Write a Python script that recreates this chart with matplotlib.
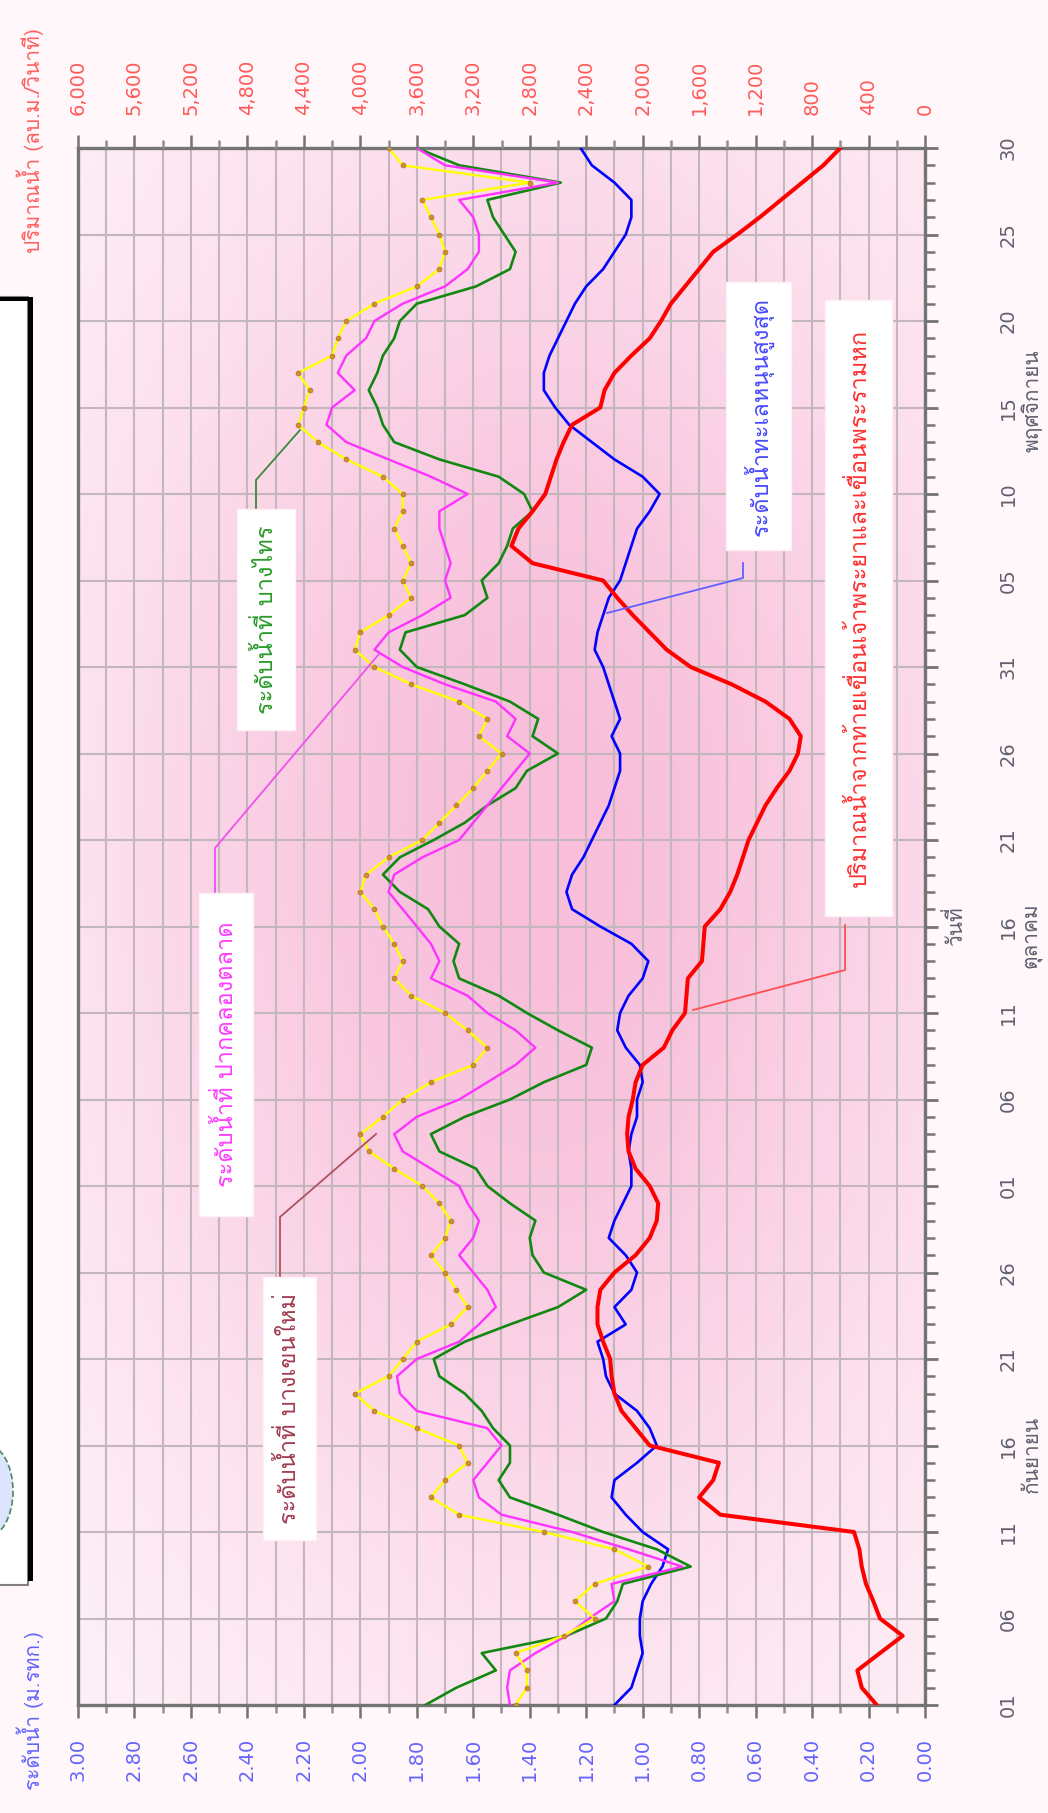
import numpy as np
import matplotlib
matplotlib.use('Agg')
import matplotlib.pyplot as plt
from matplotlib import font_manager
from matplotlib.lines import Line2D
from matplotlib.patches import Rectangle, Circle

# data: day 0 = 01 Sep ... day 90 = 30 Nov
days = np.arange(91)

lvl_bangsai = [1.77, 1.66, 1.52, 1.57, 1.27, 1.13, 1.09, 1.07, 0.83, 0.95,
               1.14, 1.30, 1.47, 1.51, 1.47, 1.47, 1.53, 1.57, 1.63, 1.72,
               1.74, 1.63, 1.47, 1.30, 1.20, 1.35, 1.39, 1.40, 1.38, 1.47,
               1.55, 1.59, 1.72, 1.75, 1.63, 1.47, 1.35, 1.20, 1.18, 1.30,
               1.41, 1.51, 1.65, 1.67, 1.65, 1.72, 1.76, 1.86, 1.92, 1.86,
               1.74, 1.63, 1.55, 1.45, 1.41, 1.30, 1.39, 1.37, 1.47, 1.63,
               1.80, 1.86, 1.84, 1.63, 1.55, 1.57, 1.51, 1.48, 1.46, 1.39,
               1.42, 1.51, 1.72, 1.88, 1.92, 1.94, 1.97, 1.94, 1.92, 1.88,
               1.86, 1.80, 1.59, 1.47, 1.45, 1.49, 1.53, 1.55, 1.29, 1.65,
               1.80]
lvl_pakklong = [1.47, 1.48, 1.47, 1.38, 1.27, 1.19, 1.10, 1.11, 0.86, 1.05,
                1.25, 1.50, 1.58, 1.60, 1.55, 1.50, 1.55, 1.80, 1.86, 1.87,
                1.80, 1.65, 1.58, 1.52, 1.55, 1.60, 1.65, 1.60, 1.58, 1.62,
                1.65, 1.75, 1.85, 1.88, 1.80, 1.65, 1.55, 1.45, 1.38, 1.45,
                1.55, 1.62, 1.75, 1.72, 1.75, 1.80, 1.85, 1.90, 1.88, 1.78,
                1.65, 1.60, 1.55, 1.50, 1.45, 1.40, 1.48, 1.45, 1.52, 1.70,
                1.85, 1.95, 1.90, 1.78, 1.68, 1.70, 1.68, 1.70, 1.72, 1.72,
                1.62, 1.75, 1.90, 2.05, 2.12, 2.10, 2.02, 2.08, 2.05, 1.98,
                1.95, 1.85, 1.70, 1.62, 1.58, 1.58, 1.60, 1.65, 1.30, 1.70,
                1.80]
lvl_bangkhen = [1.45, 1.41, 1.41, 1.45, 1.28, 1.17, 1.24, 1.17, 0.98, 1.10,
                1.35, 1.65, 1.75, 1.70, 1.62, 1.65, 1.80, 1.95, 2.02, 1.90,
                1.85, 1.80, 1.68, 1.62, 1.66, 1.70, 1.75, 1.70, 1.68, 1.72,
                1.78, 1.88, 1.97, 2.00, 1.92, 1.85, 1.75, 1.60, 1.55, 1.62,
                1.70, 1.82, 1.88, 1.85, 1.88, 1.92, 1.95, 2.00, 1.98, 1.90,
                1.78, 1.72, 1.66, 1.60, 1.55, 1.50, 1.58, 1.55, 1.65, 1.82,
                1.95, 2.02, 2.00, 1.90, 1.82, 1.85, 1.82, 1.85, 1.88, 1.85,
                1.85, 1.92, 2.05, 2.15, 2.22, 2.20, 2.18, 2.22, 2.10, 2.08,
                2.05, 1.95, 1.80, 1.72, 1.70, 1.72, 1.75, 1.78, 1.40, 1.85,
                1.90]
sea_level = [1.10, 1.04, 1.02, 1.00, 1.01, 1.01, 1.00, 0.97, 0.93, 0.91,
             1.00, 1.06, 1.11, 1.10, 1.02, 0.95, 0.975, 1.02, 1.10, 1.13,
             1.14, 1.16, 1.06, 1.10, 1.04, 1.02, 1.06, 1.12, 1.10, 1.07,
             1.04, 1.04, 1.05, 1.04, 1.02, 1.02, 1.00, 1.01, 1.06, 1.09,
             1.08, 1.05, 1.00, 0.98, 1.04, 1.15, 1.25, 1.27, 1.25, 1.21,
             1.18, 1.15, 1.12, 1.10, 1.08, 1.08, 1.11, 1.08, 1.10, 1.12,
             1.14, 1.17, 1.16, 1.14, 1.12, 1.08, 1.06, 1.04, 1.02, 0.975,
             0.94, 1.00, 1.10, 1.18, 1.26, 1.31, 1.35, 1.35, 1.33, 1.30,
             1.27, 1.24, 1.20, 1.14, 1.10, 1.06, 1.04, 1.04, 1.10, 1.18,
             1.22]
flow_q = [342, 448, 479, 319, 158, 319, 366, 418, 448, 465,
          503, 1450, 1600, 1500, 1460, 1950, 2050, 2150, 2200, 2220,
          2230, 2280, 2320, 2320, 2300, 2200, 2050, 1950, 1900, 1890,
          1950, 2050, 2100, 2110, 2100, 2070, 2050, 2000, 1850, 1790,
          1700, 1690, 1680, 1580, 1570, 1560, 1450, 1380, 1330, 1290,
          1250, 1190, 1130, 1050, 960, 900, 880, 960, 1130, 1370,
          1660, 1830, 1950, 2070, 2180, 2280, 2780, 2930, 2880, 2780,
          2690, 2650, 2610, 2560, 2500, 2300, 2270, 2200, 2080, 1950,
          1870, 1800, 1700, 1600, 1500, 1330, 1170, 1020, 870, 720,
          600]

date_ticks = np.arange(0, 91, 5)
date_labels = ['01', '06', '11', '16', '21', '26', '01', '06', '11', '16',
               '21', '26', '31', '05', '10', '15', '20', '25', '30']
level_ticks = np.arange(0, 3.01, 0.2)
flow_ticks = np.arange(0, 6001, 400)


def thai_family():
    from fontTools.ttLib import TTFont
    for f in font_manager.fontManager.ttflist:
        try:
            tt = TTFont(f.fname, fontNumber=0, lazy=True)
            if 0x0E01 in tt.getBestCmap():
                return f.name
        except Exception:
            pass
    return 'DejaVu Sans'


names = {f.name for f in font_manager.fontManager.ttflist}
THAI = thai_family()
if 'Liberation Sans Narrow' in names:
    NUM, NUM_SIZE = 'Liberation Sans Narrow', 19
else:
    NUM, NUM_SIZE = 'DejaVu Sans', 14
plt.rcParams['font.family'] = [THAI, 'DejaVu Sans']

W, H = 1048, 1813


def fx(x):
    return x / W


def fy(y):
    return 1 - y / H


fig = plt.figure(figsize=(W / 100, H / 100), dpi=100, facecolor='#fff7fa')
ax = fig.add_axes([fx(78), fy(1705), (925 - 78) / W, (1705 - 148) / H])

# pink background gradient
gx, gy = np.meshgrid(np.linspace(0, 1, 300), np.linspace(0, 1, 300))
g = np.exp(-((gx - 0.55) / 0.55) ** 2 - ((gy - 0.55) / 0.5) ** 2)
c0 = np.array([255, 246, 250]) / 255
c1 = np.array([248, 190, 218]) / 255
img = c0 + (c1 - c0) * g[..., None]
ax.imshow(img, extent=[3, 0, 0, 90], aspect='auto', origin='lower', zorder=0)

ax.plot(sea_level, days, color='#0000ff', lw=1.9, zorder=3)
ax.plot(lvl_bangsai, days, color='#118811', lw=1.9, zorder=3)
ax.plot(lvl_pakklong, days, color='#ff33ff', lw=1.7, zorder=3)
ax.plot(lvl_bangkhen, days, color='#ffff00', lw=1.7, zorder=3,
        marker='o', ms=3.5, mfc='#d09030', mec='#b07020', mew=0.5)

ax.set_xlim(3, 0)
ax.set_ylim(0, 90)
ax.set_xticks(level_ticks)
ax.set_xticks(np.arange(0.1, 3.0, 0.2), minor=True)
ax.set_xticklabels(['%.2f' % v for v in level_ticks])
ax.set_yticks(date_ticks)
ax.set_yticks(days, minor=True)
ax.set_yticklabels(date_labels)
ax.yaxis.tick_right()
ax.grid(True, which='both', axis='x', color='#c4b6bd', lw=1.5)
ax.grid(True, which='major', axis='y', color='#c4b6bd', lw=1.5)
for s in ax.spines.values():
    s.set_color('#747474')
    s.set_linewidth(2.4)
ax.tick_params(axis='x', which='major', length=9.5, width=1.8, color='#747474',
               pad=14, labelrotation=90, labelcolor='#6464ff', labelsize=NUM_SIZE)
ax.tick_params(axis='x', which='minor', length=6, width=1.8, color='#909090')
ax.tick_params(axis='y', which='major', length=9, width=2, color='#747474',
               pad=44, labelrotation=90, labelcolor='#606070', labelsize=NUM_SIZE)
ax.tick_params(axis='y', which='minor', length=7, width=1.8, color='#747474')
for t in ax.get_xticklabels() + ax.get_yticklabels():
    t.set_family(NUM)
for t in ax.get_yticklabels():
    t.set_verticalalignment('center')

ax2 = ax.twiny()
ax2.plot(flow_q, days, color='#ff0000', lw=2.9, zorder=4)
ax2.set_xlim(6000, 0)
ax2.set_xticks(flow_ticks)
ax2.set_xticks(np.arange(200, 6000, 400), minor=True)
ax2.set_xticklabels(['{:,}'.format(v) for v in flow_ticks])
ax2.tick_params(axis='x', which='major', length=9.5, width=1.8, color='#747474',
                pad=14, labelrotation=90, labelcolor='#ff5a5a', labelsize=NUM_SIZE)
ax2.tick_params(axis='x', which='minor', length=6, width=1.8, color='#909090')
for t in ax2.get_xticklabels():
    t.set_family(NUM)
for s in ax2.spines.values():
    s.set_visible(False)

# axis titles
fig.text(fx(30), fy(141), 'ปริมาณน้ำ (ลบ.ม./วินาที)', rotation=90, color='#ff6060',
         fontsize=15, ha='center', va='center')
fig.text(fx(30), fy(1711), 'ระดับน้ำ (ม.รทก.)', rotation=90, color='#6464ff',
         fontsize=15, ha='center', va='center')
fig.text(fx(955), fy(926), 'วันที่', rotation=90, color='#606070',
         fontsize=15, ha='center', va='center')
for txt, y in [('กันยายน', 1454), ('ตุลาคม', 935), ('พฤศจิกายน', 401)]:
    fig.text(fx(1032), fy(y), txt, rotation=90, color='#606070',
             fontsize=15, ha='center', va='center')

# cut-off legend box on the left
fig.add_artist(Rectangle((fx(-10), fy(1585)), fx(38), (1585 - 297) / H,
                         facecolor='white', edgecolor='#808080', lw=1.5,
                         transform=fig.transFigure, zorder=5))
fig.add_artist(Rectangle((fx(28), fy(1581)), fx(5), (1581 - 297) / H,
                         facecolor='black', edgecolor='none',
                         transform=fig.transFigure, zorder=6))
fig.add_artist(Rectangle((fx(0), fy(301)), fx(33), 4 / H,
                         facecolor='black', edgecolor='none',
                         transform=fig.transFigure, zorder=6))
fig.add_artist(Circle((fx(-14), fy(1491)), 27 / W, facecolor='#dde4ff',
                      edgecolor='#4a8a5a', ls='--', lw=1.2,
                      transform=fig.transFigure, zorder=6))

# label boxes with pointer lines
boxes = [
    ('ระดับน้ำที่ บางไทร', '#2a9a2a', (237, 509, 295, 730)),
    ('ระดับน้ำที่ ปากคลองตลาด', '#ff3cff', (199, 893, 253, 1216)),
    ('ระดับน้ำที่ บางเขนใหม่', '#a03c50', (263, 1277, 316, 1540)),
    ('ระดับน้ำทะเลหนุนสูงสุด', '#4a4aff', (726, 282, 791, 550)),
    ('ปริมาณน้ำจากท้ายเขื่อนเจ้าพระยาและเขื่อนพระรามหก', '#ff3030', (825, 300, 892, 916)),
]
for txt, col, (x0, y0, x1, y1) in boxes:
    fig.add_artist(Rectangle((fx(x0), fy(y1)), (x1 - x0) / W, (y1 - y0) / H,
                             facecolor='white', edgecolor='#fff0f5', lw=1,
                             transform=fig.transFigure, zorder=7))
    fig.text(fx((x0 + x1) / 2), fy((y0 + y1) / 2), txt, rotation=90, color=col,
             fontsize=17, ha='center', va='center', zorder=8)

pointers = [
    ('#3a8a3a', [(256, 509), (256, 480), (300, 430)]),
    ('#f050f0', [(215, 893), (215, 848), (379, 654)]),
    ('#b05060', [(280, 1277), (280, 1217), (376, 1134)]),
    ('#6060ff', [(743, 563), (743, 578), (607, 613)]),
    ('#ff5050', [(845, 925), (845, 970), (693, 1010)]),
]
for col, pts in pointers:
    xs = [fx(p[0]) for p in pts]
    ys = [fy(p[1]) for p in pts]
    fig.add_artist(Line2D(xs, ys, color=col, lw=1.3, transform=fig.transFigure, zorder=6))

fig.savefig('out.png', dpi=100, facecolor=fig.get_facecolor())
